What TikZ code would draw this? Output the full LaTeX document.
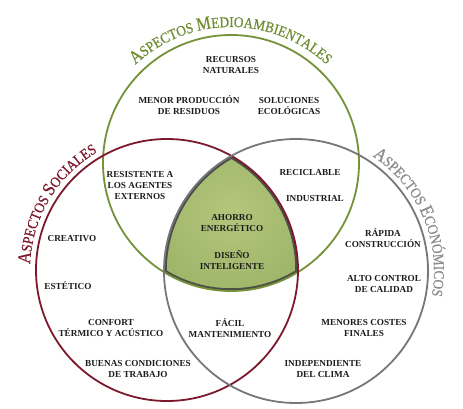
\documentclass[tikz,border=0pt]{standalone}
\usepackage{fontspec}
\setmainfont{Liberation Serif}
\newfontfamily\titlefont[FakeStretch=0.88,FakeBold=0.6]{Liberation Serif}
\usetikzlibrary{decorations.text}
\definecolor{greenc}{RGB}{118,146,56}
\definecolor{greent}{RGB}{112,142,50}
\definecolor{redc}{RGB}{125,25,45}
\definecolor{grayc}{RGB}{118,118,124}
\definecolor{grayt}{RGB}{140,140,142}
\definecolor{olivein}{RGB}{178,198,124}
\definecolor{oliveout}{RGB}{146,170,92}
\definecolor{rimc}{RGB}{78,80,72}
\definecolor{txtc}{RGB}{28,28,28}
\newcommand\tbig{\titlefont\fontsize{18.5}{18.5}\selectfont}
\newcommand\tsmall{\titlefont\fontsize{15}{15}\selectfont}
\tikzset{
  lbl/.style={align=center, font=\bfseries\fontsize{9.2}{11}\selectfont, text=txtc, inner sep=0pt},
  ring/.style={line width=1.8pt},
}
\begin{document}
\begin{tikzpicture}[x=1pt,y=1pt]
\useasboundingbox (0,0) rectangle (463,408);
\fill[white] (0,0) rectangle (463,408);
\coordinate (G) at (231,245);
\coordinate (GT) at (231,241);
\coordinate (R) at (167,138);
\coordinate (E) at (296,137);
\def\rg{128}\def\rr{131}\def\re{132}
% central region
\begin{scope}
  \clip (G) circle[radius=\rg];
  \clip (R) circle[radius=\rr];
  \clip (E) circle[radius=\re];
  \shade[inner color=olivein, outer color=oliveout] (231,195) circle[radius=140];
  \draw[rimc, line width=5.5pt] (G) circle[radius=\rg] (R) circle[radius=\rr] (E) circle[radius=\re];
\end{scope}
% circles
\draw[ring, greenc] (G) circle[radius=\rg];
\draw[ring, redc] (R) circle[radius=\rr];
\draw[ring, grayc] (E) circle[radius=\re];
% titles
\path[decorate, decoration={text along path, text align=center, text color=greent,
  text={|\tbig|A|\tsmall|SPECTOS |\tbig|M|\tsmall|EDIOAMBIENTALES}}]
  (GT) ++(180:140) arc[start angle=180, end angle=0, radius=140];
\path[decorate, decoration={text along path, text align=center, text color=redc,
  text={|\tbig|A|\tsmall|SPECTOS |\tbig|S|\tsmall|OCIALES}}]
  (R) ++(209:137) arc[start angle=209, end angle=89, radius=137];
\path[decorate, decoration={text along path, text align=center, text color=grayt,
  text={|\tbig|A|\tsmall|SPECTOS |\tbig|E|\tsmall|CONÓMICOS}}]
  (E) ++(83:138) arc[start angle=83, end angle=-37, radius=138];
% labels
\node[lbl] (rn) at (231,343.5) {RECURSOS\\NATURALES};
\node[lbl] (mp) at (189,302.5) {MENOR PRODUCCIÓN\\DE RESIDUOS};
\node[lbl] (se) at (289,302.5) {SOLUCIONES\\ECOLÓGICAS};
\node[lbl] (ra) at (140,223) {RESISTENTE A\\LOS AGENTES\\EXTERNOS};
\node[lbl] (rc) at (310,236) {RECICLABLE};
\node[lbl] (in) at (315,210) {INDUSTRIAL};
\node[lbl] (ae) at (232,185) {AHORRO\\ENERGÉTICO};
\node[lbl] (di) at (232,148) {DISEÑO\\INTELIGENTE};
\node[lbl] (cr) at (72,169) {CREATIVO};
\node[lbl] (es) at (68,122) {ESTÉTICO};
\node[lbl] (ct) at (111,80) {CONFORT\\TÉRMICO Y ACÚSTICO};
\node[lbl] (fm) at (230,80) {FÁCIL\\MANTENIMIENTO};
\node[lbl] (bc) at (138,39) {BUENAS CONDICIONES\\DE TRABAJO};
\node[lbl] (rp) at (383,170) {RÁPIDA\\CONSTRUCCIÓN};
\node[lbl] (ac) at (384,124) {ALTO CONTROL\\DE CALIDAD};
\node[lbl] (mc) at (364,80) {MENORES COSTES\\FINALES};
\node[lbl] (id) at (323,39) {INDEPENDIENTE\\DEL CLIMA};
\end{tikzpicture}
\end{document}
